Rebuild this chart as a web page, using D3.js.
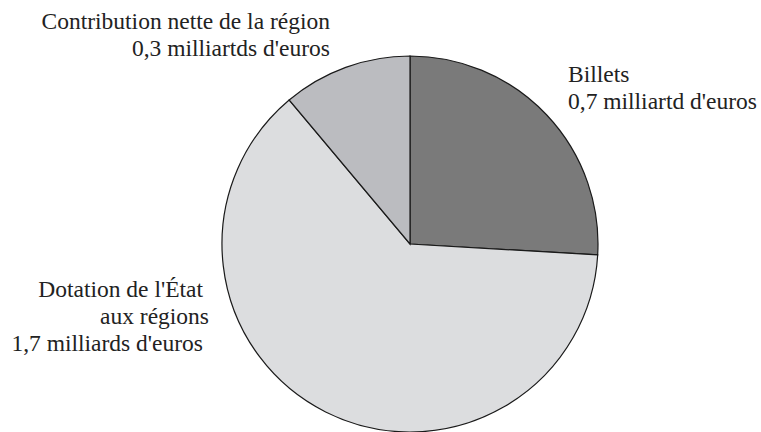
<!DOCTYPE html>
<html><head><meta charset="utf-8">
<script src="https://cdn.jsdelivr.net/npm/d3@7"></script>
</head><body style="margin:0">
<svg id="c" width="761" height="432"></svg>
<script>
const categories = ["Billets", "Dotation de l'État aux régions", "Contribution nette de la région"];
const values = [0.7, 1.7, 0.3];
const colors = ["#7a7a7a", "#dcdddf", "#bbbcc0"];
const labelLines = [
  ["Billets", "0,7 milliartd d'euros"],
  ["Dotation de l'État", "aux régions", "1,7 milliards d'euros"],
  ["Contribution nette de la région", "0,3 milliartds d'euros"]
];

const svg = d3.select("#c");
const cx = 410, cy = 244, r = 188;
const data = categories.map((c, i) => ({cat: c, value: values[i], color: colors[i], lines: labelLines[i]}));
const pie = d3.pie().value(d => d.value).sort(null);
const arc = d3.arc().innerRadius(0).outerRadius(r);
const g = svg.append("g").attr("transform", `translate(${cx},${cy})`);
g.selectAll("path").data(pie(data)).join("path")
  .attr("d", arc).attr("fill", d => d.data.color)
  .attr("stroke", "#1a1a1a").attr("stroke-width", 1.2).attr("stroke-linejoin", "miter");

const layout = [
  {x: 568, anchor: "start", y: 82, dx: [0, 0]},
  {x: 203, anchor: "end", y: 297, dx: [0, 6, 0]},
  {x: 330, anchor: "end", y: 29, dx: [0, 0]}
];
const lh = 27;
data.forEach((d, i) => {
  const L = layout[i];
  d.lines.forEach((line, j) => {
    svg.append("text")
      .style("font-family", '"Liberation Serif", "Times New Roman", Tinos, serif', "important")
      .style("font-size", "23.5px").style("fill", "#222")
      .attr("text-anchor", L.anchor)
      .attr("x", L.x + L.dx[j]).attr("y", L.y + j * lh).text(line);
  });
});
</script>
</body></html>
